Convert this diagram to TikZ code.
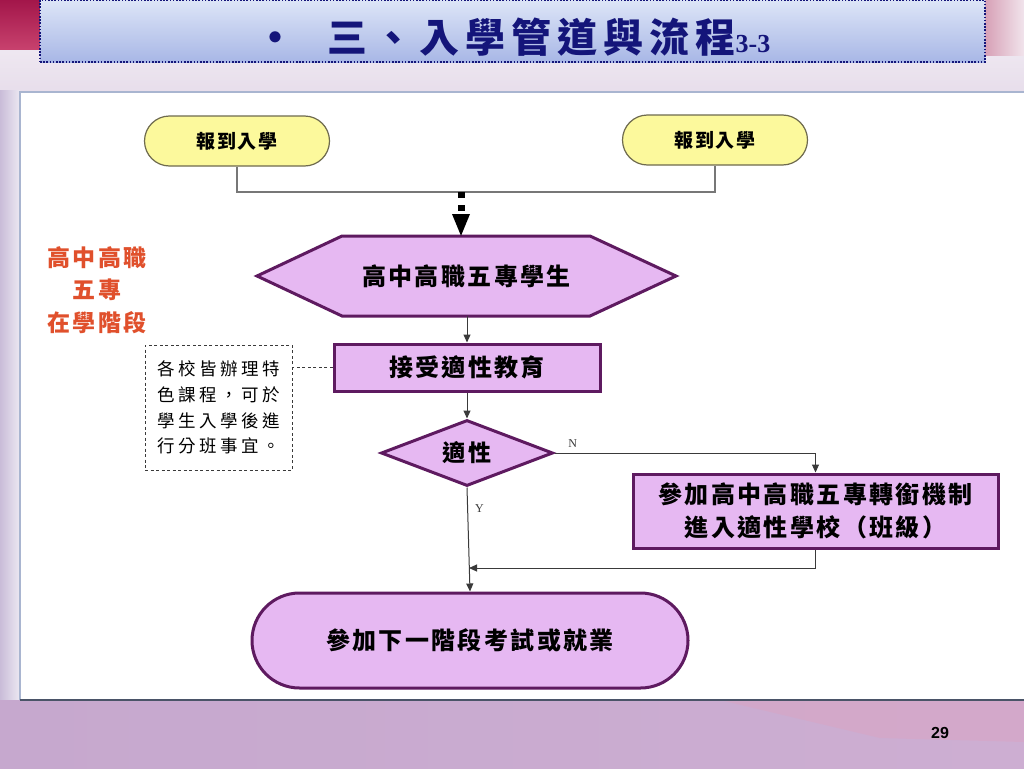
\documentclass[tikz,border=0pt]{standalone}
\usepackage{fontspec}
\setmainfont{Liberation Serif}
\newfontfamily\cjk{Noto Sans CJK TC}
\newfontfamily\cjkls{Noto Sans CJK TC}[LetterSpace=10]
\newfontfamily\cjkcap{Noto Sans CJK TC}[LetterSpace=10]
\newfontfamily\cjkwide{Noto Sans CJK TC}[LetterSpace=20]
\newfontfamily\cjktitle{Noto Sans CJK TC}[LetterSpace=15]
\newfontfamily\arialf{Liberation Sans}
\usetikzlibrary{shapes.geometric,shapes.misc,arrows.meta,calc}
\definecolor{yelfill}{HTML}{FCF99C}
\definecolor{yelline}{HTML}{6E6A4E}
\definecolor{vfill}{HTML}{E6B8F2}
\definecolor{vline}{HTML}{5E1A60}
\definecolor{conn}{HTML}{3A3A3A}
\definecolor{greyconn}{HTML}{777777}
\definecolor{navy}{HTML}{14157A}
\definecolor{redtxt}{HTML}{E0502C}
\definecolor{bgtop}{HTML}{F7F3F8}
\definecolor{bgmid}{HTML}{E6DCEA}
\definecolor{bgbot}{HTML}{C6A8CE}
\definecolor{bgbotr}{HTML}{CDAED2}
\definecolor{leftstripA}{HTML}{C9BCD8}
\definecolor{leftstripB}{HTML}{ECE8F2}
\definecolor{crimA}{HTML}{A3164A}
\definecolor{crimB}{HTML}{C8426E}
\definecolor{pinkA}{HTML}{D7A0B6}
\definecolor{pinkB}{HTML}{F1E4EC}
\definecolor{titleA}{HTML}{DDE5F7}
\definecolor{titleB}{HTML}{A8B7E6}
\definecolor{paneltop}{HTML}{A9B5D0}
\definecolor{panelbot}{HTML}{4A5468}
\definecolor{band}{HTML}{D9A4C4}
\tikzset{
  capsule/.style={rounded rectangle, draw=yelline, line width=1.2pt, fill=yelfill,
    minimum width=185pt, minimum height=50pt, inner sep=0pt,
    font=\cjkcap\bfseries\fontsize{19}{19}\selectfont},
  vbox/.style={rectangle, draw=vline, line width=3pt, fill=vfill, inner sep=0pt,
    font=\cjkls\bfseries\fontsize{24}{33}\selectfont, align=center},
  vdiam/.style={diamond, aspect=2.6, draw=vline, line width=3pt, fill=vfill, inner sep=0pt,
    minimum width=172pt, minimum height=66pt, font=\cjkls\bfseries\fontsize{23}{23}\selectfont},
  vcap/.style={rounded rectangle, draw=vline, line width=3pt, fill=vfill, inner sep=0pt,
    font=\cjkls\bfseries\fontsize{24}{24}\selectfont},
  hexshape/.style={draw=vline, line width=3pt, fill=vfill, line join=miter},
  arr/.style={draw=conn, line width=1pt, -{Triangle[length=8pt,width=7pt]}},
  gline/.style={draw=greyconn, line width=1.2pt},
  lbl/.style={font=\fontsize{12}{12}\selectfont, text=conn, inner sep=1pt},
  notebox/.style={draw=conn, line width=1pt, dash pattern=on 3pt off 2.5pt,
    minimum width=147pt, minimum height=125pt, inner sep=0pt, align=left,
    font=\cjkwide\fontsize{17.5}{25.7}\selectfont},
}
\begin{document}
\begin{tikzpicture}[x=1pt,y=-1pt]
\useasboundingbox (0,0) rectangle (1024,768);
% slide background
\shade[top color=bgtop, bottom color=bgmid] (0,0) rectangle (1024,100);
\shade[left color=leftstripA, right color=leftstripB] (0,90) rectangle (20,700);
\shade[left color=bgbot, right color=bgbotr] (0,700) rectangle (1024,768);
\fill[band, opacity=0.55] (720,700) -- (1024,700) -- (1024,742) -- (880,738) -- (745,706) -- cycle;
\shade[top color=crimA, bottom color=crimB] (0,0) rectangle (42,50);
\shade[left color=pinkA, right color=pinkB] (985,0) rectangle (1024,56);
% white panel
\fill[white] (20,92) rectangle (1024,700);
\draw[color=paneltop, line width=1.2pt] (20,700) -- (20,92) -- (1024,92);
\draw[color=panelbot, line width=2pt] (20,700) -- (1024,700);
% title
\node[rectangle, minimum width=945pt, minimum height=62pt, top color=titleA,
  bottom color=titleB, draw=navy, line width=1.6pt, dash pattern=on 1.6pt off 1.6pt]
  (tbox) at (512.5,31) {};
\node[text=navy, font=\cjktitle\bfseries\fontsize{40}{40}\selectfont, inner sep=0pt] (title) at (513,37.5)
  {•\hspace{32pt}三、入學管道與流程{\rmfamily\bfseries\fontsize{26}{26}\selectfont 3-3}};
% left red label
\node[text=redtxt, align=center, font=\cjkls\bfseries\fontsize{23}{32.5}\selectfont] (stage) at (97,290)
  {高中高職\\五專\\在學階段};
% start capsules
\node[capsule] (r1) at (237,141) {報到入學};
\node[capsule] (r2) at (715,140) {報到入學};
\coordinate (j) at (461,192);
\draw[gline] (r1.south) |- (j) -| (r2.south);
% hexagon
\path[hexshape] (342,236) -- (590,236) -- (676,276) -- (590,316) -- (342,316) -- (257,276) -- cycle;
\node[minimum width=419pt, minimum height=80pt, inner sep=0pt, font=\cjkls\bfseries\fontsize{24}{24}\selectfont] (hex) at (466.5,276) {高中高職五專學生};
\draw[line width=7pt, dash pattern=on 6pt off 7pt] (j) -- (461,215);
\fill (452,214) -- (470,214) -- (j |- hex.north) -- cycle;
% main boxes
\node[vbox, minimum width=266pt, minimum height=47pt] (act) at (467,367.5) {接受適性教育};
\node[notebox] (note) at (218.5,407.5) {各校皆辦理特\\色課程，可於\\學生入學後進\\行分班事宜。};
\node[vdiam] (dec) at (467,453) {適性};
\node[vbox, minimum width=365pt, minimum height=74pt] (trans) at (815.5,511) {參加高中高職五專轉銜機制\\進入適性學校（班級）};
\node[vcap, minimum width=436pt, minimum height=95pt] (end) at (470,640.5) {參加下一階段考試或就業};
\coordinate (m) at (469,568);
% connectors
\draw[arr] (hex.south -| act.north) -- (act.north);
\draw[conn, line width=1pt, dash pattern=on 3pt off 2.5pt] (act.west) -- (act.west -| note.east);
\draw[arr] (act.south) -- (dec.north);
\draw[arr] (dec.east) -| node[lbl, pos=0.02, anchor=south west, xshift=2pt, yshift=4pt] {N} (trans.north);
\draw[arr] (dec.south) -- node[lbl, pos=0.2, right=6pt] {Y} (end.north);
\draw[arr] (trans.south) |- (m);
% page number
\node[font=\arialf\bfseries\fontsize{16}{16}\selectfont] (pg) at (940,733) {29};
\end{tikzpicture}
\end{document}
